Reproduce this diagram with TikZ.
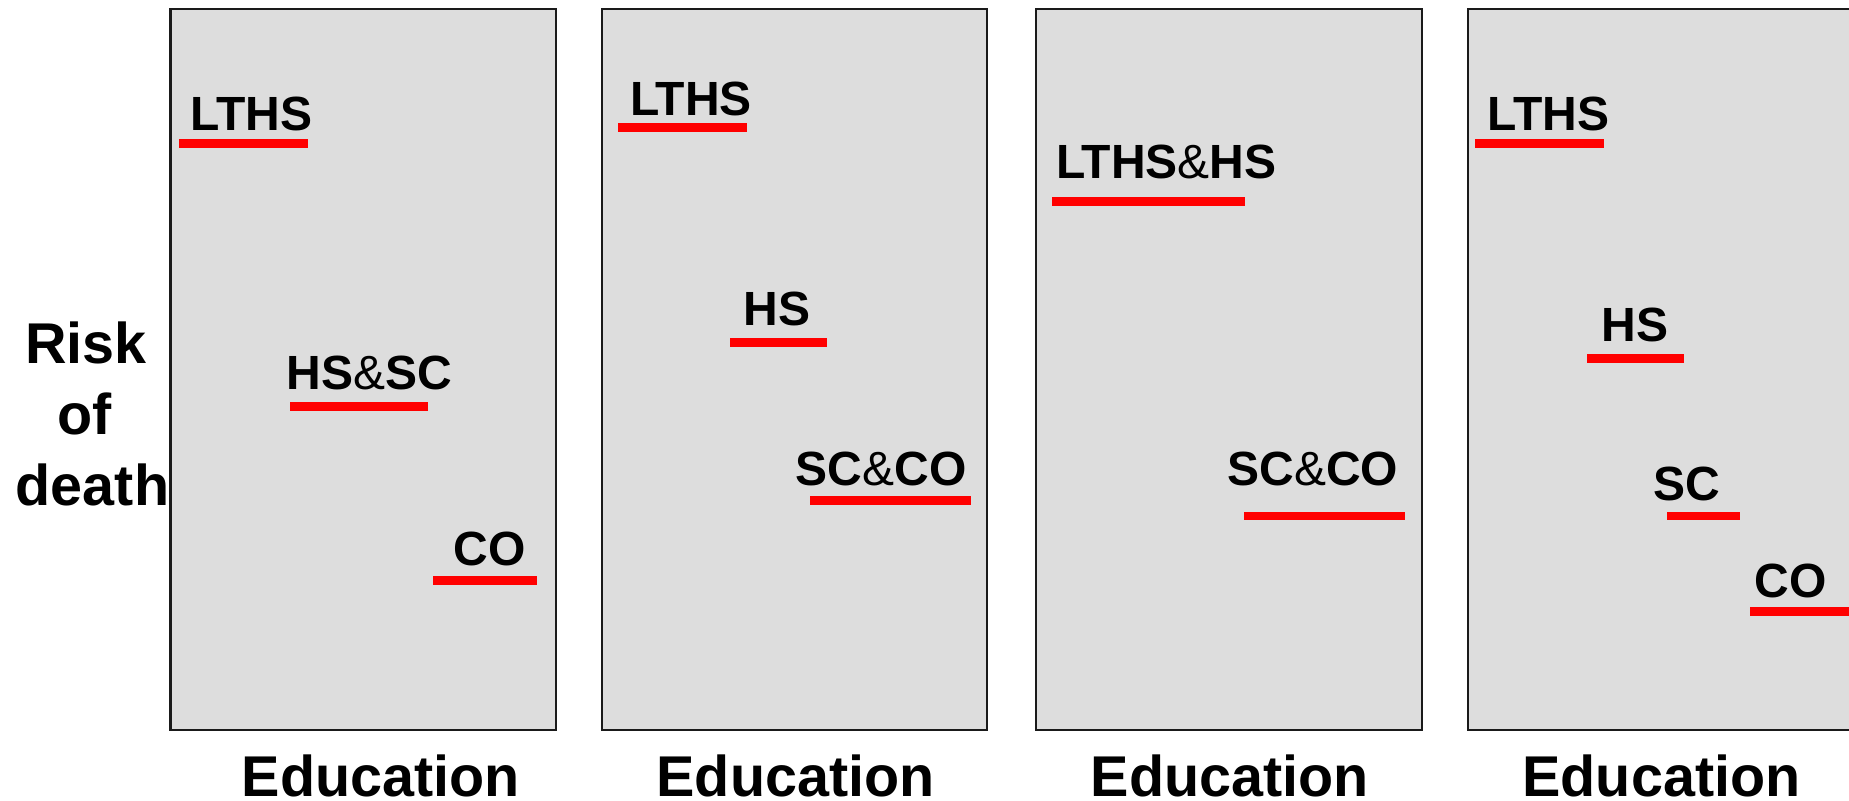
\documentclass[tikz,border=0pt]{standalone}
\usepackage{fontspec}
\setmainfont{Liberation Sans}
\definecolor{panelgray}{HTML}{DDDDDD}
\definecolor{barred}{HTML}{FF0000}
\definecolor{frame}{HTML}{1A1A1A}
\newcommand{\amp}{{\mdseries\&}}
\tikzset{
  panel/.style={draw=frame, line width=0.9pt, fill=panelgray},
  bar/.style={draw=barred, line width=3.5pt},
  lbl/.style={anchor=base, inner sep=0pt, font=\fontsize{19.2}{21}\selectfont\bfseries},
  axislbl/.style={anchor=base, inner sep=0pt, font=\fontsize{23}{26}\selectfont\bfseries},
}
\begin{document}
\begin{tikzpicture}[x=0.4pt,y=-0.4pt]
\clip (0,0) rectangle (1849,801);
\fill[white] (0,0) rectangle (1849,801);
% panels
\draw[panel] (170.4,9.2) rectangle (555.7,729.7);
\draw[panel] (601.7,9.2) rectangle (986.7,729.7);
\draw[panel] (1035.7,9.2) rectangle (1421.7,729.7);
\draw[panel] (1467.7,9.2) rectangle (1856,729.7);
% y axis label
\node[axislbl] (risk) at (86,363.7) {Risk};
\node[axislbl] (of) at (85,434.4) {of};
\node[axislbl] (death) at (92.5,505.9) {death};
% x axis labels
\node[axislbl] (ed1) at (380.7,796.5) {Education};
\node[axislbl] (ed2) at (795.5,796.5) {Education};
\node[axislbl] (ed3) at (1229.7,796.5) {Education};
\node[axislbl] (ed4) at (1661.4,796.5) {Education};
% panel 1
\node[lbl] (p1a) at (251.3,130.3) {LTHS};
\draw[bar] (178.8,143.3) -- (307.6,143.3);
\node[lbl] (p1b) at (369.1,389.4) {HS\amp SC};
\draw[bar] (290.4,406.5) -- (427.6,406.5);
\node[lbl] (p1c) at (489.9,565.7) {CO};
\draw[bar] (433,580.5) -- (537,580.5);
% panel 2
\node[lbl] (p2a) at (691,115) {LTHS};
\draw[bar] (618,127.2) -- (747,127.2);
\node[lbl] (p2b) at (777.3,325.5) {HS};
\draw[bar] (730,342.4) -- (827,342.4);
\node[lbl] (p2c) at (881.3,485.2) {SC\amp CO};
\draw[bar] (810,500.2) -- (971,500.2);
% panel 3
\node[lbl] (p3a) at (1166.3,178.9) {LTHS\amp HS};
\draw[bar] (1052,201.3) -- (1245,201.3);
\node[lbl] (p3b) at (1312.8,485.2) {SC\amp CO};
\draw[bar] (1244,516.1) -- (1405,516.1);
% panel 4
\node[lbl] (p4a) at (1548.3,130.3) {LTHS};
\draw[bar] (1475,143.3) -- (1604,143.3);
\node[lbl] (p4b) at (1634.7,341.4) {HS};
\draw[bar] (1587,358.4) -- (1684,358.4);
\node[lbl] (p4c) at (1686.7,500.8) {SC};
\draw[bar] (1667,516.1) -- (1740,516.1);
\node[lbl] (p4d) at (1790.5,597.8) {CO};
\draw[bar] (1750,611.8) -- (1856,611.8);
\end{tikzpicture}
\end{document}
